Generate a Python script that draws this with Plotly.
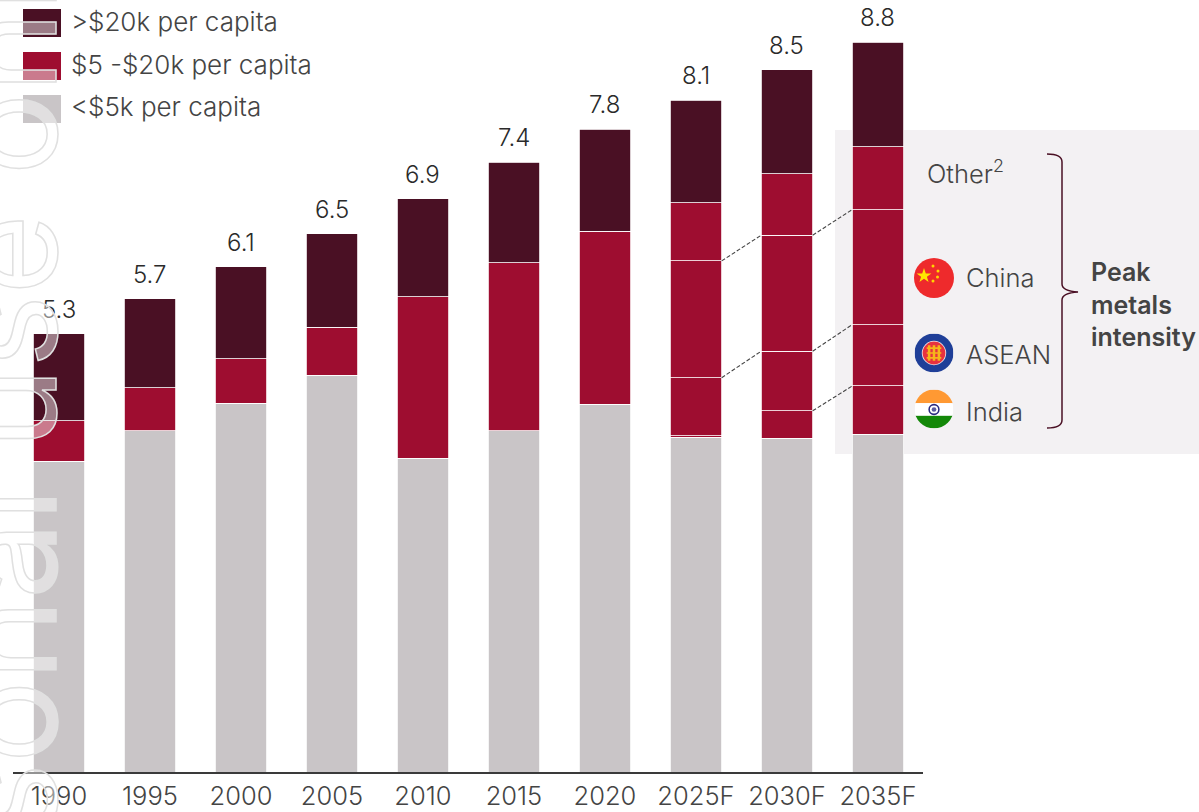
import base64
import plotly.graph_objects as go

years = ["1990", "1995", "2000", "2005", "2010", "2015", "2020", "2025F", "2030F", "2035F"]
total_labels = ["5.3", "5.7", "6.1", "6.5", "6.9", "7.4", "7.8", "8.1", "8.5", "8.8"]
low_income = [3.75, 4.12, 4.45, 4.79, 3.79, 4.12, 4.44, 4.04, 4.03, 4.08]
mid_income_hist = [0.49, 0.52, 0.54, 0.58, 1.95, 2.03, 2.09, None, None, None]
india = [None] * 7 + [0.02, 0.33, 0.58]
asean = [None] * 7 + [0.70, 0.72, 0.74]
china = [None] * 7 + [1.41, 1.40, 1.39]
other = [None] * 7 + [0.70, 0.74, 0.76]
high_income = [1.05, 1.07, 1.11, 1.13, 1.18, 1.21, 1.23, 1.24, 1.26, 1.26]

legend_labels = [">$20k per capita", "$5 -$20k per capita", "<$5k per capita"]
DARK, RED, GREY = "#4a1024", "#9e0d30", "#c9c5c7"
FONT = "Inter"
TXT = "#444444"

W, H = 1199, 812
L, R, T, B = 13, 276, 0, 40
SCALE = 82.84


def px(x):
    return (x - L) / (W - L - R)


def py(y):
    return 1 - (y - T) / (H - T - B)


xs = list(range(len(years)))
BW = 0.565


def n(v):
    return [a or 0 for a in v]


fig = go.Figure()
for name, vals, col in [
    ("<$5k per capita", low_income, GREY),
    ("$5-$20k per capita", mid_income_hist, RED),
    ("India", india, RED),
    ("ASEAN", asean, RED),
    ("China", china, RED),
    ("Other", other, RED),
    (">$20k per capita", high_income, DARK),
]:
    fig.add_bar(x=xs, y=vals, name=name, width=BW, marker=dict(color=col, line=dict(color="white", width=0.8)))

totals = [sum(t) for t in zip(n(low_income), n(mid_income_hist), n(india), n(asean), n(china), n(other), n(high_income))]

# dashed connectors between stack boundaries
c_india = [a + b for a, b in zip(n(low_income), n(india))]
c_asean = [a + b for a, b in zip(c_india, n(asean))]
c_china = [a + b for a, b in zip(c_asean, n(china))]
cx, cy = [], []
for level, starts in [(c_china, (7, 8)), (c_asean, (7, 8)), (c_india, (8,))]:
    for i in starts:
        cx += [xs[i] + BW / 2, xs[i + 1] - BW / 2, None]
        cy += [level[i], level[i + 1], None]
fig.add_scatter(x=cx, y=cy, mode="lines", line=dict(color="#444444", width=1.1, dash="4px,2px"))

shapes = [dict(type="rect", xref="paper", yref="paper", x0=px(835), x1=px(1199), y0=py(454), y1=py(130),
               fillcolor="#f3f1f3", line_width=0, layer="below")]
for y0, col in [(9, DARK), (52, RED), (95, GREY)]:
    shapes.append(dict(type="rect", xref="paper", yref="paper", x0=px(23), x1=px(61), y0=py(y0 + 28), y1=py(y0),
                       fillcolor=col, line_width=0))


def P(x, y):
    return f"{px(x):.5f},{py(y):.5f}"


brace = (f"M{P(1047,154)} Q{P(1062,154)} {P(1062,162)} L{P(1062,284)} Q{P(1062,291)} {P(1078,292)} "
         f"Q{P(1062,293)} {P(1062,300)} L{P(1062,420)} Q{P(1062,428)} {P(1047,428)}")
shapes.append(dict(type="path", xref="paper", yref="paper", path=brace, line=dict(color=DARK, width=1.5)))

ann = []
for xv, yv, lab in zip(xs, totals, total_labels):
    ann.append(dict(text=lab, x=xv, y=yv, xref="x", yref="y", xanchor="center", yanchor="bottom", yshift=8,
                    showarrow=False, font=dict(family=FONT, size=24, color="#2a2a2a", weight=300)))
for (txt, yy) in zip(legend_labels, [21.5, 64.5, 106.5]):
    ann.append(dict(text=txt, x=px(69), y=py(yy), xref="paper", yref="paper", xanchor="left", yanchor="middle",
                    showarrow=False, font=dict(family=FONT, size=26, color=TXT, weight=300)))
for txt, xx, yy in [("Other<sup>2</sup>", 924.5, 172), ("China", 963.5, 278), ("ASEAN", 963.5, 354), ("India", 963.5, 411)]:
    ann.append(dict(text=txt, x=px(xx), y=py(yy), xref="paper", yref="paper", xanchor="left", yanchor="middle",
                    showarrow=False, font=dict(family=FONT, size=25.5, color=TXT, weight=300)))
ann.append(dict(text="Peak<br>metals<br>intensity", x=px(1088.5), y=py(304), xref="paper", yref="paper",
                xanchor="left", yanchor="middle", align="left", showarrow=False,
                font=dict(family=FONT, size=25, color=TXT, weight=600)))
# rotated watermark
ann.append(dict(text="For personal use only", x=px(90), y=py(601), xref="paper", yref="paper",
                xanchor="right", yanchor="middle", textangle=-90, showarrow=False,
                font=dict(family=FONT, size=138, color="rgba(255,255,255,0.45)")))


def svg_uri(body):
    s = f'<svg xmlns="http://www.w3.org/2000/svg" viewBox="0 0 40 40"><defs><clipPath id="c"><circle cx="20" cy="20" r="20"/></clipPath></defs><g clip-path="url(#c)">{body}</g></svg>'
    return "data:image/svg+xml;base64," + base64.b64encode(s.encode()).decode()


cn = ('<rect width="40" height="40" fill="#ee2a2c"/>'
      '<polygon points="10,10 11.8,15.4 17.4,15.4 12.9,18.7 14.6,24 10,20.8 5.4,24 7.1,18.7 2.6,15.4 8.2,15.4" fill="#ffe600"/>'
      '<circle cx="19" cy="8" r="1.5" fill="#ffd500"/><circle cx="24" cy="13" r="1.5" fill="#ffd500"/>'
      '<circle cx="23.5" cy="19" r="1.5" fill="#ffd500"/><circle cx="19" cy="23" r="1.5" fill="#ffd500"/>')
ase = ('<rect width="40" height="40" fill="#1f3f98"/><circle cx="20" cy="20" r="12.5" fill="#f1f1f1"/>'
       '<circle cx="20" cy="20" r="11.7" fill="#e8323f"/>'
       '<g stroke="#f6b71a" stroke-width="2.6" fill="none"><path d="M15 12 L15 28 M20 12 L20 28 M25 12 L25 28"/>'
       '<path d="M12.5 15 L27.5 15 M12.5 20 L27.5 20 M12.5 25 L27.5 25" stroke-width="1.6"/></g>')
ind = ('<rect width="40" height="14" fill="#ff9933"/><rect y="14" width="40" height="13" fill="#ffffff"/>'
       '<rect y="27" width="40" height="13" fill="#138808"/><circle cx="20" cy="20.5" r="5" fill="none" stroke="#2a2a80" stroke-width="1.6"/>'
       '<circle cx="20" cy="20.5" r="2.4" fill="#5a5aa0"/>')
images = []
for body, cxp, cyp, r in [(cn, 934, 278, 20), (ase, 934, 353, 19.5), (ind, 934, 409, 19.5)]:
    images.append(dict(source=svg_uri(body), xref="paper", yref="paper", x=px(cxp - r), y=py(cyp - r),
                       sizex=px(cxp + r) - px(cxp - r), sizey=py(cyp - r) - py(cyp + r),
                       xanchor="left", yanchor="top", sizing="stretch", layer="above"))

fig.update_layout(
    width=W, height=H, barmode="stack", showlegend=False, paper_bgcolor="white", plot_bgcolor="rgba(0,0,0,0)",
    margin=dict(l=L, r=R, t=T, b=B, pad=0), shapes=shapes, annotations=ann, images=images,
    xaxis=dict(range=[-0.505, 9.495], tickmode="array", tickvals=xs, ticktext=years, showgrid=False, zeroline=False,
               showline=True, linecolor="#3a3a3a", linewidth=2, ticks="",
               tickfont=dict(family=FONT, size=25.5, color=TXT, weight=300)),
    yaxis=dict(range=[0, (H - B) / SCALE], visible=False, showgrid=False, zeroline=False),
)
post = """
document.body.style.margin='0';
document.querySelectorAll('.annotation-text').forEach(function(t){
  if(t.textContent.indexOf('personal')>=0){t.style.stroke='#e0e0e0';t.style.strokeWidth='1.5px';}
});
"""
fig.write_html("out.html", post_script=post, config=dict(displayModeBar=False))
